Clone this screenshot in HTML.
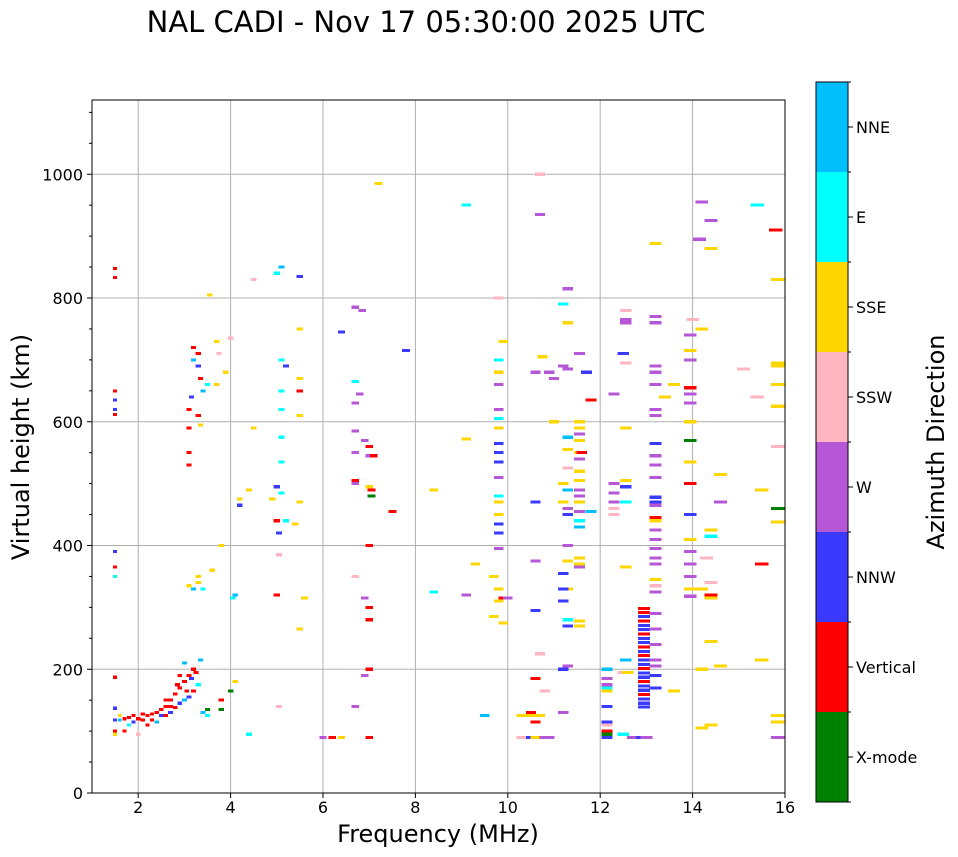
<!DOCTYPE html>
<html><head><meta charset="utf-8">
<style>
html,body{margin:0;padding:0;background:#fff;}
svg{display:block;font-family:"DejaVu Sans","Liberation Sans",sans-serif;}
</style></head>
<body>
<svg id="chart" width="958" height="857" viewBox="0 0 958 857" xmlns="http://www.w3.org/2000/svg">
<text x="426" y="32" font-size="29" text-anchor="middle">NAL CADI - Nov 17 05:30:00 2025 UTC</text>
<g id="grid"></g>
<g id="marks" shape-rendering="crispEdges"></g>
<rect x="92" y="100" width="693" height="693" fill="none" stroke="#000" stroke-width="1"/>
<g id="axes"></g>
<text x="438" y="842" font-size="24" text-anchor="middle">Frequency (MHz)</text>
<text transform="translate(29,447) rotate(-90)" font-size="24" text-anchor="middle">Virtual height (km)</text>
<g id="cbar"></g>
<text transform="translate(944,442) rotate(-90)" font-size="24" text-anchor="middle">Azimuth Direction</text>
</svg>
<script>
const directions = ["X-mode","Vertical","NNW","W","SSW","SSE","E","NNE"];
const dirColors = ["#008000","#ff0000","#3a3aff","#b657d6","#ffb6c1","#ffd700","#00ffff","#00bfff"];
const xTicks = [2,4,6,8,10,12,14,16];
const yTicks = [0,200,400,600,800,1000];
// echoes: frequency (MHz), virtual height (km), direction index
const freqs = [];
const heights = [];
const dirs = [];
const echoes = [
[1.5,848,1],[1.5,833,1],[1.5,650,1],[1.5,635,2],[1.5,620,2],[1.5,612,1],[1.5,390,2],[1.5,365,1],[1.5,350,6],[1.5,187,1],[1.5,137,2],[1.5,118,2],[1.5,100,1],[1.5,95,5],
[1.6,118,7],[1.7,120,1],[1.8,122,1],[1.9,125,1],[2.0,120,1],[2.1,118,1],[2.2,125,1],[2.3,128,1],[2.4,130,1],[2.5,135,1],[2.6,140,1],[2.7,150,1],[2.8,160,1],[2.9,170,1],[3.0,180,1],[3.1,190,1],[3.2,200,1],[2.6,125,1],[2.7,130,2],[2.8,138,1],[2.9,145,2],[3.0,150,7],[3.1,155,2],[3.2,165,1],[3.3,175,6],[3.35,215,7],[3.4,130,7],[1.8,110,6],[2.2,110,1],[2.4,115,7],[2.9,190,1],[3.0,210,7],[1.6,125,5],[1.7,100,1],[2.0,95,4],[3.5,125,6],[3.5,135,0],[3.8,135,0],[3.8,150,1],[4.0,165,0],[4.1,180,5],[4.4,95,6],[2.1,128,1],[2.3,118,1],[2.5,125,2],[2.7,140,1],[2.85,175,1],[3.05,165,1],[3.15,185,2],[3.25,195,1],[1.9,115,2],[2.6,150,1],
[3.1,530,1],[3.1,550,1],[3.1,590,1],[3.1,620,1],[3.15,640,2],[3.2,700,7],[3.2,720,1],[3.3,710,1],[3.3,690,2],[3.35,670,1],[3.3,610,1],[3.35,595,5],[3.4,650,7],[3.5,660,6],[3.7,660,5],[3.75,710,4],[3.7,730,5],[3.9,680,5],[4.0,735,4],[3.55,805,5],[3.1,335,5],[3.2,330,7],[3.3,340,5],[3.4,330,6],[3.3,350,5],[3.6,360,5],[4.05,315,6],[4.1,320,7],[4.2,475,5],[4.2,465,2],[4.4,490,5],[4.5,590,5],[3.8,400,5],[4.5,830,4],
[5.0,495,2],[5.0,440,1],[5.05,420,2],[5.05,385,4],[5.1,485,6],[5.1,535,6],[5.1,575,6],[5.1,620,6],[5.1,700,6],[5.2,690,2],[5.1,650,6],[5.5,670,5],[5.5,650,1],[5.5,610,5],[5.5,750,5],[5.5,835,2],[5.1,850,7],[5.0,840,6],[4.9,475,5],[5.2,440,6],[5.0,320,1],[5.5,265,5],[5.6,315,5],[5.5,470,5],[5.4,435,5],[5.05,140,4],
[6.2,90,1],[6.4,90,5],[6.0,90,3],[6.4,745,2],[6.7,785,3],[6.7,665,6],[6.7,630,3],[6.7,585,3],[6.7,550,3],[6.7,505,1],[6.7,500,3],[6.7,350,4],[6.7,140,3],[6.85,780,3],[6.8,645,3],[6.9,570,3],[7.0,560,1],[7.0,545,3],[7.1,545,1],[7.0,495,5],[7.05,490,1],[7.05,480,0],[7.0,400,1],[6.9,315,3],[7.0,300,1],[7.0,280,1],[7.0,200,1],[7.0,90,1],[6.9,190,3],[7.2,985,5],[7.5,455,1],[7.8,715,2],
[8.4,490,5],[8.4,325,6],[9.1,950,6],[9.1,572,5],[9.1,320,3],[9.3,370,5],[9.5,125,7],[9.7,350,5],[9.7,285,5],
[9.8,700,6],[9.8,680,5],[9.8,660,3],[9.8,620,3],[9.8,605,6],[9.8,590,5],[9.8,565,2],[9.8,550,2],[9.8,535,2],[9.8,510,3],[9.8,480,6],[9.8,470,5],[9.8,450,5],[9.8,435,2],[9.8,420,2],[9.8,395,3],[9.8,330,5],[9.8,310,5],[9.9,730,5],[9.9,315,1],[10.0,315,3],[9.9,275,5],[9.8,800,4],
[10.3,125,5],[10.5,125,5],[10.7,125,5],[10.5,130,1],[10.6,115,1],[10.3,90,4],[10.5,90,2],[10.6,90,5],[10.8,90,3],[10.9,90,3],[10.6,185,1],[10.6,295,2],[10.6,375,3],[10.6,470,2],[10.6,680,3],[10.75,705,5],[10.7,935,3],[10.7,1000,4],[10.7,225,4],[10.8,165,4],[10.9,680,3],[11.0,600,5],[11.0,670,3],[11.2,690,3],[11.2,500,5],[11.2,470,5],[11.3,815,3],[11.2,790,6],[11.3,760,5],[11.3,685,3],[11.3,575,7],[11.3,555,5],[11.3,525,4],[11.3,490,7],[11.3,460,3],[11.3,450,2],[11.3,400,3],[11.3,375,5],[11.3,330,5],[11.2,330,2],[11.3,280,6],[11.3,270,2],[11.3,205,3],[11.2,200,2],[11.2,130,3],[11.2,355,2],[11.2,310,2],
[11.55,600,5],[11.55,590,5],[11.55,580,3],[11.55,570,5],[11.55,550,5],[11.55,540,3],[11.55,520,5],[11.55,505,5],[11.55,490,3],[11.55,480,3],[11.55,470,5],[11.55,455,3],[11.55,440,6],[11.55,430,7],[11.55,380,5],[11.55,370,5],[11.55,365,3],[11.55,270,5],[11.55,278,5],[11.55,710,3],[11.6,550,1],[11.8,455,7],[11.8,635,1],[11.7,680,2],
[12.15,200,7],[12.15,185,3],[12.15,175,3],[12.15,170,6],[12.15,115,2],[12.15,110,4],[12.15,100,1],[12.15,95,0],[12.15,90,2],[12.15,140,2],[12.15,165,5],[12.3,645,3],[12.3,500,3],[12.3,485,3],[12.3,470,3],[12.3,460,4],[12.3,450,4],[12.55,780,4],[12.55,765,3],[12.55,760,3],[12.5,710,2],[12.55,695,4],[12.55,590,5],[12.55,505,5],[12.55,495,2],[12.55,470,6],[12.55,365,5],[12.55,215,7],[12.5,195,4],[12.6,195,5],[12.5,95,6],[12.7,90,3],[12.9,90,2],[13.0,90,3],
[12.95,298,1],[12.95,292,1],[12.95,285,2],[12.95,278,1],[12.95,271,2],[12.95,264,2],[12.95,257,1],[12.95,250,2],[12.95,243,2],[12.95,236,1],[12.95,229,2],[12.95,222,1],[12.95,215,2],[12.95,208,2],[12.95,201,1],[12.95,194,2],[12.95,187,2],[12.95,180,1],[12.95,173,2],[12.95,166,2],[12.95,159,1],[12.95,152,2],[12.95,145,2],[12.95,139,2],
[13.2,770,3],[13.2,760,3],[13.2,690,3],[13.2,680,3],[13.2,660,3],[13.2,620,3],[13.2,610,3],[13.2,565,2],[13.2,545,3],[13.2,530,3],[13.2,510,3],[13.2,478,2],[13.2,470,2],[13.2,465,3],[13.2,445,1],[13.2,440,5],[13.2,425,3],[13.2,410,3],[13.2,395,3],[13.2,380,3],[13.2,370,3],[13.2,345,5],[13.2,335,4],[13.2,325,3],[13.2,290,3],[13.2,265,3],[13.2,240,3],[13.2,215,3],[13.2,205,3],[13.2,190,2],[13.2,170,2],[13.2,888,5],[13.4,640,5],[13.6,660,5],[13.6,165,5],
[13.95,740,3],[13.95,715,5],[13.95,700,3],[13.95,655,1],[13.95,645,3],[13.95,630,3],[13.95,600,5],[13.95,570,0],[13.95,535,5],[13.95,500,1],[13.95,450,2],[13.95,410,5],[13.95,390,3],[13.95,370,3],[13.95,350,3],[13.95,330,5],[13.95,318,3],[14.0,765,4],[14.15,895,3],[14.2,955,3],[14.2,750,5],[14.2,330,5],[14.2,200,5],[14.2,105,5],[14.4,925,3],[14.4,880,5],[14.4,425,5],[14.4,415,6],[14.4,340,4],[14.4,320,1],[14.4,315,5],[14.4,245,5],[14.4,110,5],[14.3,380,4],[14.6,515,5],[14.6,470,3],[14.6,205,5],[15.1,685,4],[15.4,950,6],[15.4,640,4],[15.5,490,5],[15.5,370,1],[15.5,215,5],[15.8,910,1],[15.85,830,5],[15.85,695,5],[15.85,690,5],[15.85,660,5],[15.85,625,5],[15.85,560,4],[15.85,460,0],[15.85,438,5],[15.85,125,5],[15.85,115,5],[15.85,90,3]
];
for (const e of echoes){ freqs.push(e[0]); heights.push(e[1]); dirs.push(e[2]); }

const NS="http://www.w3.org/2000/svg";
const X0=92,X1=785,Y0=793,Y1=100,FMIN=1,FMAX=16,HMIN=0,HMAX=1120;
const xs=f=>X0+(f-FMIN)/(FMAX-FMIN)*(X1-X0);
const ys=h=>Y0-(h-HMIN)/(HMAX-HMIN)*(Y0-Y1);
function mk(tag,attrs,parent){const el=document.createElementNS(NS,tag);for(const k in attrs)el.setAttribute(k,attrs[k]);parent.appendChild(el);return el;}

const grid=document.getElementById('grid');
const axes=document.getElementById('axes');
for(const t of xTicks){
  if(t<16){const gl=mk('line',{x1:xs(t),x2:xs(t),y1:Y1,y2:Y0,stroke:'#b0b0b0','stroke-width':1},grid);
  
  }
  const tk=mk('line',{x1:xs(t),x2:xs(t),y1:Y0,y2:Y0+5,stroke:'#000'},axes);
  
  
  const tl=mk('text',{x:xs(t),y:Y0+20,'font-size':16,'text-anchor':'middle'},axes);
  tl.textContent=t;
  
  
}
for(const t of yTicks){
  if(t>0){const gl=mk('line',{x1:X0,x2:X1,y1:ys(t),y2:ys(t),stroke:'#b0b0b0','stroke-width':1},grid);
  
  }
  const tk=mk('line',{x1:X0-5,x2:X0,y1:ys(t),y2:ys(t),stroke:'#000'},axes);
  
  
  const tl=mk('text',{x:X0-9,y:ys(t)+6,'font-size':16,'text-anchor':'end'},axes);
  tl.textContent=t;
  
  
}
for(let h=50;h<HMAX;h+=50){ if(h%200===0) continue;
  const mt=mk('line',{x1:X0-3,x2:X0,y1:ys(h),y2:ys(h),stroke:'#000'},axes);
  
  
}

const marks=document.getElementById('marks');
for(let i=0;i<freqs.length;i++){
  const w=0.06+0.015*freqs[i];
  const x=xs(freqs[i]-w/2), x2=xs(freqs[i]+w/2);
  const r=mk('rect',{x:x,y:ys(heights[i]+2.5),width:x2-x,height:ys(heights[i]-2.5)-ys(heights[i]+2.5),fill:dirColors[dirs[i]]},marks);
  
  
}

const cbar=document.getElementById('cbar');
const CB_X=816,CB_W=32,CB_TOP=82,CB_BOT=802;
const segH=(CB_BOT-CB_TOP)/directions.length;
for(let i=0;i<directions.length;i++){
  const y=CB_BOT-(i+1)*segH;
  const s=mk('rect',{x:CB_X,y:y,width:CB_W,height:segH,fill:dirColors[i]},cbar);
  
  
  const tk=mk('line',{x1:CB_X+CB_W,x2:CB_X+CB_W+5,y1:y+segH/2,y2:y+segH/2,stroke:'#000'},cbar);
  
  
  const tl=mk('text',{x:CB_X+CB_W+8,y:y+segH/2+6,'font-size':16},cbar);
  tl.textContent=directions[i];
  
  
}
for(let i=0;i<=directions.length;i++){
  const y=CB_BOT-i*segH;
  const m=mk('line',{x1:CB_X+CB_W,x2:CB_X+CB_W+3,y1:y,y2:y,stroke:'#000'},cbar);
  
  
}
const fr=mk('rect',{x:CB_X,y:CB_TOP,width:CB_W,height:CB_BOT-CB_TOP,fill:'none',stroke:'#000'},cbar);


</script>
</body></html>
